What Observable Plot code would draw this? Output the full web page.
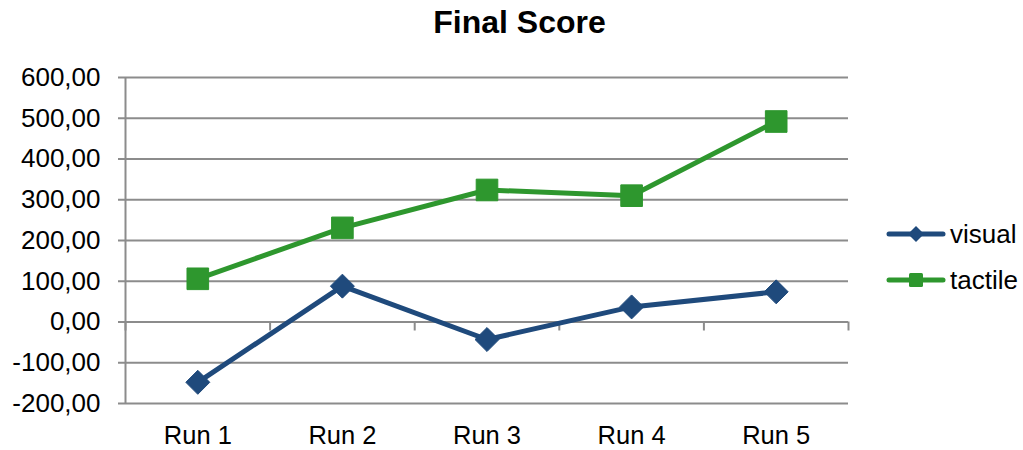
<!DOCTYPE html>
<html><head><meta charset="utf-8">
<script src="https://cdn.jsdelivr.net/npm/d3@7"></script>
<script src="https://cdn.jsdelivr.net/npm/@observablehq/plot@0.6"></script>
<style>
body{margin:0;background:#fff;font-family:"Liberation Sans",Arial,sans-serif;}
#wrap{position:relative;width:1023px;height:450px;overflow:hidden;}
#title{height:50px;line-height:45px;text-align:center;padding-left:16px;box-sizing:border-box;font-size:32px;font-weight:bold;color:#000;}
#legend{position:absolute;left:886px;top:214px;}
.item{display:flex;align-items:center;height:40px;margin-bottom:6px;font-size:26px;color:#000;}
.item svg{margin-right:2px;}
</style></head>
<body><div id="wrap"><div id="title">Final Score</div><div id="chart"></div><div id="legend"></div></div>
<script>
const runs = ["Run 1", "Run 2", "Run 3", "Run 4", "Run 5"];
const visual = [-148, 88, -43, 37, 74];
const tactile = [106, 231, 324, 310, 492];
const seriesNames = ["visual", "tactile"];
const seriesColors = ["#1F4A7C", "#2E972E"];
const seriesSymbols = ["diamond2", "square"];
const yTicks = [-200, -100, 0, 100, 200, 300, 400, 500, 600];

const seriesValues = [visual, tactile];
const data = [];
seriesNames.forEach((s, k) => runs.forEach((r, i) => data.push({run: i + 1, label: r, series: s, value: seriesValues[k][i]})));
const xIdx = runs.map((_, i) => i + 1);
const boundaries = d3.range(runs.length + 1).map(i => i + 0.5);
const grid = "#8c8c8c";
const fmt = d => d.toFixed(2).replace(".", ",");

const chart = Plot.plot({
  width: 1023, height: 400,
  marginTop: 27, marginBottom: 47, marginLeft: 125, marginRight: 175,
  style: {fontFamily: '"Liberation Sans", Arial, sans-serif', fontSize: "25px", color: "#000", background: "transparent"},
  x: {type: "linear", domain: [0.5, runs.length + 0.5], label: null},
  y: {domain: [-200, 600], label: null},
  color: {domain: seriesNames, range: seriesColors},
  marks: [
    Plot.ruleY(yTicks, {stroke: grid, strokeWidth: 2, insetLeft: -7}),
    Plot.ruleX([boundaries[0]], {stroke: grid, strokeWidth: 2}),
    Plot.ruleX(boundaries, {y1: 0, y2: 0, insetBottom: -9, stroke: grid, strokeWidth: 2}),
    Plot.axisY({ticks: yTicks, tickSize: 0, tickPadding: 25, tickFormat: fmt, label: null, fontSize: 26}),
    Plot.axisX({ticks: xIdx, tickSize: 0, tickPadding: 22, tickFormat: i => runs[i - 1], label: null, fontSize: 25.5}),
    Plot.line(data, {x: "run", y: "value", z: "series", stroke: "series", strokeWidth: 5, strokeLinejoin: "round", strokeLinecap: "round"}),
    Plot.dot(data.filter(d => d.series === "visual"), {x: "run", y: "value", symbol: "diamond2", r: 10.8, fill: seriesColors[0], stroke: seriesColors[0], strokeWidth: 1, strokeLinejoin: "round"}),
    Plot.dot(data.filter(d => d.series === "tactile"), {x: "run", y: "value", symbol: "square", r: 12.2, fill: seriesColors[1], stroke: seriesColors[1], strokeWidth: 1, strokeLinejoin: "round"})
  ]
});
document.getElementById("chart").appendChild(chart);

const legend = document.getElementById("legend");
seriesNames.forEach((s, k) => {
  const div = document.createElement("div");
  div.className = "item";
  const c = seriesColors[k];
  const marker = seriesSymbols[k] === "square"
    ? `<rect x="23" y="3" width="14" height="14" rx="1.5" fill="${c}"/>`
    : `<path d="M30,2 L38,10 L30,18 L22,10 Z" fill="${c}"/>`;
  div.innerHTML = `<svg width="62" height="20"><line x1="3" y1="10" x2="57" y2="10" stroke="${c}" stroke-width="5" stroke-linecap="round"/>${marker}</svg><span>${s}</span>`;
  legend.appendChild(div);
});
</script>
</body></html>
